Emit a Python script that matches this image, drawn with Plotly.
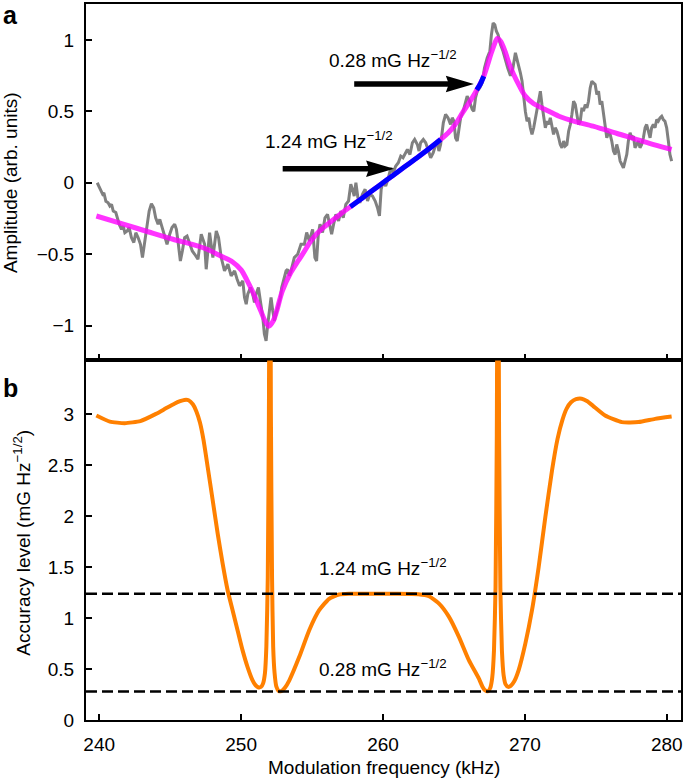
import plotly.graph_objects as go

# ---------------- data ----------------
# Panel a: measured signal (grey)
data_x = [239.86, 240.05, 240.24, 240.33, 240.47, 240.63, 240.75, 240.87, 240.99, 241.17, 241.27, 241.41,
          241.57, 241.69, 241.81, 241.97, 242.11, 242.27, 242.44, 242.58, 242.74, 242.91, 243.05, 243.16,
          243.33, 243.52, 243.68, 243.84, 243.98, 244.15, 244.27, 244.45, 244.62, 244.78, 244.97, 245.13,
          245.32, 245.44, 245.55, 245.72, 245.86, 246.02, 246.19, 246.37, 246.56,
          246.73, 246.96, 247.19, 247.43, 247.54, 247.78, 248.01, 248.25, 248.41, 248.60, 248.83, 249.07,
          249.30, 249.54, 249.72, 249.89, 250.12, 250.24, 250.36, 250.47, 250.66, 250.82, 250.94, 251.06,
          251.22, 251.36, 251.53, 251.64, 251.76, 251.88, 252.00, 252.11, 252.23, 252.35, 252.46, 252.63,
          252.77, 252.86, 253.00, 253.17, 253.28, 253.40, 253.52, 253.64, 253.75, 253.99, 254.22,
          254.46, 254.62, 254.81, 255.04, 255.20, 255.32, 255.44, 255.56, 255.74, 255.91, 256.09, 256.26,
          256.38, 256.52, 256.68, 256.87, 257.03, 257.20, 257.38, 257.57, 257.73, 257.85, 257.97, 258.09,
          258.23, 258.37, 258.55, 258.74, 258.91, 259.07, 259.26, 259.45, 259.61, 259.75, 259.87, 260.01,
          260.19, 260.38, 260.55, 260.71, 260.90, 261.08, 261.25, 261.41,
          261.72, 261.90, 262.07, 262.23, 262.42, 262.54, 262.65, 262.84, 263.01, 263.17, 263.36, 263.54,
          263.71, 263.83, 263.94, 264.06, 264.25, 264.41, 264.58, 264.76, 264.88, 265.00, 265.11, 265.23,
          265.35, 265.47, 265.65, 265.82, 265.93, 266.05, 266.17, 266.29, 266.40, 266.52, 266.64, 266.82,
          266.99, 267.15, 267.34, 267.53, 267.64, 267.76, 267.88, 267.99, 268.11, 268.28, 268.46, 268.63,
          268.79, 268.98, 269.15, 269.33, 269.50, 269.68, 269.80,
          269.92, 270.03, 270.15, 270.27, 270.38, 270.50, 270.62, 270.74, 270.85, 270.97, 271.09, 271.20,
          271.32, 271.44, 271.56, 271.67, 271.79, 271.91, 272.02, 272.14, 272.26, 272.38, 272.49, 272.61,
          272.73, 272.84, 272.96, 273.08, 273.20, 273.31, 273.43, 273.55, 273.66, 273.78, 273.90, 274.02,
          274.13, 274.25, 274.37, 274.48, 274.60, 274.72,
          274.95, 275.07, 275.19, 275.30, 275.42, 275.54, 275.65, 275.77, 275.89, 276.01, 276.12, 276.24,
          276.36, 276.47, 276.59, 276.71, 276.83, 276.94, 277.06, 277.18, 277.29, 277.41, 277.53, 277.65,
          277.76, 277.88, 278.00, 278.11, 278.23, 278.35, 278.47, 278.58, 278.70, 278.82, 278.93, 279.05,
          279.17, 279.29, 279.40, 279.52, 279.64, 279.75, 279.87, 279.99, 280.11, 280.22, 280.34]
data_y = [0.00, -0.035, -0.08, -0.07, -0.13, -0.14, -0.163, -0.151, -0.198, -0.209, -0.245, -0.291,
          -0.326, -0.303, -0.35, -0.338, -0.314, -0.384, -0.419, -0.35, -0.384, -0.431, -0.524, -0.454,
          -0.314, -0.198, -0.147, -0.175, -0.245, -0.291, -0.256, -0.314, -0.384, -0.431, -0.361, -0.314,
          -0.291, -0.326, -0.408, -0.548, -0.478, -0.384, -0.373, -0.431, -0.478,
          -0.501, -0.536, -0.361, -0.431, -0.606, -0.349, -0.524, -0.338, -0.384, -0.524, -0.617, -0.571,
          -0.652, -0.617, -0.676, -0.722, -0.687, -0.804, -0.851, -0.781, -0.734, -0.781, -0.839, -0.781,
          -0.734, -0.827, -0.944, -1.060, -1.107, -0.990, -0.874, -0.804, -0.897, -0.967, -0.920, -0.851,
          -0.804, -0.734, -0.687, -0.617, -0.606, -0.652, -0.617, -0.571, -0.524, -0.501, -0.431,
          -0.431, -0.349, -0.408, -0.326, -0.524, -0.548, -0.361, -0.291, -0.349, -0.245, -0.221, -0.291,
          -0.361, -0.291, -0.221, -0.268, -0.198, -0.245, -0.151, -0.128, -0.011, -0.046, -0.093, 0.0,
          -0.105, -0.140, -0.081, -0.046, -0.128, -0.081, -0.093, -0.128, -0.175, -0.233, -0.046, 0.012,
          -0.023, 0.035, 0.105, 0.070, 0.117, 0.140, 0.187, 0.175,
          0.233, 0.198, 0.280, 0.303, 0.268, 0.222, 0.280, 0.303, 0.280, 0.233, 0.175, 0.210,
          0.268, 0.280, 0.222, 0.268, 0.420, 0.478, 0.455, 0.408, 0.455, 0.431, 0.315, 0.292,
          0.385, 0.455, 0.501, 0.571, 0.606, 0.583, 0.548, 0.513, 0.501, 0.595, 0.641, 0.665,
          0.700, 0.804, 0.874, 0.921, 1.037, 1.119, 1.107, 1.061, 1.037, 0.968, 0.921, 0.851,
          0.804, 0.75, 0.80, 0.91, 0.85, 0.77, 0.711,
          0.595, 0.501, 0.431, 0.455, 0.385, 0.338, 0.385, 0.455, 0.525, 0.595, 0.641, 0.548,
          0.455, 0.385, 0.431, 0.408, 0.455, 0.385, 0.338, 0.385, 0.361, 0.315, 0.268, 0.245,
          0.292, 0.257, 0.268, 0.361, 0.408, 0.478, 0.571, 0.548, 0.478, 0.408, 0.431, 0.525,
          0.501, 0.548, 0.525, 0.571, 0.664, 0.711,
          0.688, 0.618, 0.641, 0.548, 0.571, 0.478, 0.408, 0.315, 0.350, 0.338, 0.292, 0.222,
          0.198, 0.268, 0.222, 0.152, 0.128, 0.105, 0.152, 0.198, 0.292, 0.350, 0.315, 0.326,
          0.245, 0.268, 0.292, 0.245, 0.268, 0.315, 0.385, 0.408, 0.361, 0.315, 0.385, 0.408,
          0.385, 0.443, 0.431, 0.455, 0.466, 0.443, 0.431, 0.385, 0.292, 0.198, 0.152]

# Panel a: fitted curve (magenta)
fit_x = [239.8, 241.7, 243.5, 245.2, 246.5, 247.6, 248.6, 249.4, 250.0, 250.4, 250.8, 251.1, 251.4,
         251.65, 251.95, 252.25, 252.5, 252.9, 253.5, 254.0, 254.4, 254.9, 255.4, 255.94, 256.9,
         257.7, 258.5, 259.3, 260.0, 260.7, 261.5, 262.3, 263.1, 264.06, 264.6, 265.1, 265.6, 266.0,
         266.5, 267.1, 267.6, 267.85, 268.05, 268.3, 268.6, 268.9, 269.2, 269.6, 270.0, 270.6, 271.4,
         272.4, 273.5, 274.8, 276.5, 278.3, 280.34]
fit_y = [-0.233, -0.29, -0.345, -0.396, -0.43, -0.466, -0.515, -0.555, -0.61, -0.68, -0.76, -0.83, -0.90,
         -0.96, -1.005, -0.97, -0.90, -0.76, -0.63, -0.55, -0.49, -0.41, -0.35, -0.303, -0.227,
         -0.168, -0.11, -0.051, 0.0, 0.051, 0.11, 0.168, 0.227, 0.303, 0.35, 0.41, 0.49, 0.55,
         0.63, 0.746, 0.90, 0.97, 1.01, 0.99, 0.92, 0.83, 0.76, 0.68, 0.61, 0.555, 0.515,
         0.466, 0.43, 0.396, 0.345, 0.29, 0.233]

# Panel a: highlighted (blue) parts of the fit
blue1_x = [257.7, 258.5, 259.3, 260.0, 260.7, 261.5, 262.3, 263.1, 264.06]
blue1_y = [-0.168, -0.11, -0.051, 0.0, 0.051, 0.11, 0.168, 0.227, 0.303]
blue2_x = [266.6, 266.85, 267.1]
blue2_y = [0.65, 0.69, 0.746]

# Panel b: accuracy level (orange)
acc_x = [239.8, 240.75, 241.8, 242.9, 244.0, 244.7, 245.3, 245.7, 246.0, 246.3, 246.6, 246.85, 247.1,
         247.35, 247.65, 248.0, 248.35, 248.7, 249.05, 249.4, 249.75, 250.1, 250.45, 250.8, 251.0,
         251.2, 251.4, 251.55, 251.68, 251.78, 251.88, 251.96, 252.03, 252.1, 252.18, 252.26, 252.36,
         252.48, 252.65, 252.85, 253.1, 253.4, 254.1, 254.8, 255.5, 256.2, 256.9, 257.6, 259.3,
         261.0, 262.5, 263.24, 263.95, 264.65, 265.35, 266.05, 266.75, 267.0, 267.2, 267.4, 267.57,
         267.7, 267.82, 267.93, 268.02, 268.1, 268.18, 268.27, 268.38, 268.5, 268.64, 268.82, 269.0,
         269.25, 269.56, 270.03, 270.5, 270.97, 271.44, 271.91, 272.3, 272.65, 272.95, 273.25, 273.6,
         274.0, 274.4, 274.8, 275.65, 276.83, 278.0, 279.17, 280.34]
acc_y = [2.99, 2.93, 2.915, 2.935, 3.006, 3.06, 3.105, 3.13, 3.143, 3.14, 3.10, 3.03, 2.92,
         2.75, 2.48, 2.156, 1.83, 1.535, 1.274, 1.078, 0.882, 0.686, 0.522, 0.392, 0.345,
         0.322, 0.325, 0.36, 0.46, 0.72, 1.4, 3.0, 6.0, 3.0, 1.4, 0.72, 0.46,
         0.33, 0.285, 0.285, 0.32, 0.39, 0.62, 0.882, 1.078, 1.19, 1.232, 1.24, 1.24,
         1.24, 1.235, 1.215, 1.143, 1.013, 0.817, 0.588, 0.408, 0.33, 0.29, 0.283, 0.32,
         0.42, 0.68, 1.3, 2.8, 6.0, 2.8, 1.3, 0.68, 0.44, 0.35, 0.325, 0.335,
         0.38, 0.49, 0.75, 1.078, 1.503, 1.993, 2.45, 2.76, 2.95, 3.06, 3.12, 3.15,
         3.155, 3.13, 3.085, 2.99, 2.925, 2.925, 2.957, 2.98]

# Reference levels (mG Hz^-1/2)
levels = [1.24, 0.28]
level_labels = ["1.24 mG Hz<sup>\u22121/2</sup>", "0.28 mG Hz<sup>\u22121/2</sup>"]

# Tick values / labels
x_ticks = [240, 250, 260, 270, 280]
ya_ticks = [-1, -0.5, 0, 0.5, 1]
ya_text = ["\u22121", "\u22120.5", "0", "0.5", "1"]
yb_ticks = [0, 0.5, 1, 1.5, 2, 2.5, 3]
yb_text = ["0", "0.5", "1", "1.5", "2", "2.5", "3"]

# Arrows in panel a: (tail x, tip x, y, label)
arrows = [(257.97, 266.40, 0.692, "0.28 mG Hz<sup>\u22121/2</sup>"),
          (252.93, 260.78, 0.098, "1.24 mG Hz<sup>\u22121/2</sup>")]

# ---------------- figure ----------------
FONT = "Liberation Sans, Arial, Helvetica, sans-serif"
GREY = "rgb(128,128,128)"
MAGENTA = "rgba(255,0,255,0.8)"
BLUE = "rgb(0,0,255)"
ORANGE = "rgb(255,128,0)"

fig = go.Figure()
fig.add_trace(go.Scatter(x=data_x, y=data_y, mode="lines", line=dict(color=GREY, width=3),
                         xaxis="x", yaxis="y", showlegend=False, hoverinfo="skip"))
fig.add_trace(go.Scatter(x=fit_x, y=fit_y, mode="lines", line=dict(color=MAGENTA, width=5, shape="spline", smoothing=0.8),
                         xaxis="x", yaxis="y", showlegend=False, hoverinfo="skip"))
for bx, by in [(blue1_x, blue1_y), (blue2_x, blue2_y)]:
    fig.add_trace(go.Scatter(x=bx, y=by, mode="lines", line=dict(color=BLUE, width=5, shape="spline"),
                             xaxis="x", yaxis="y", showlegend=False, hoverinfo="skip"))
fig.add_trace(go.Scatter(x=acc_x, y=acc_y, mode="lines", line=dict(color=ORANGE, width=4, shape="spline", smoothing=0.5),
                         xaxis="x2", yaxis="y2", showlegend=False, hoverinfo="skip"))

x_range = [239.07, 281.0]
split = 0.5021
axis_common = dict(showline=True, linecolor="black", linewidth=2, mirror=True, ticks="inside",
                   ticklen=6, tickwidth=2, tickcolor="black", showgrid=False, zeroline=False,
                   tickfont=dict(family=FONT, size=19, color="black"))

fig.update_layout(
    width=685, height=781,
    margin=dict(l=86, r=2, t=3, b=61),
    paper_bgcolor="white", plot_bgcolor="white",
    font=dict(family=FONT, size=19, color="black"),
    hovermode=False,
    xaxis=dict(domain=[0, 1], anchor="y", range=x_range, tickvals=x_ticks, showticklabels=False, **axis_common),
    yaxis=dict(domain=[split, 1], anchor="x", range=[-1.245, 1.252], tickvals=ya_ticks, ticktext=ya_text,
               ticklabelstandoff=6, **axis_common),
    xaxis2=dict(domain=[0, 1], anchor="y2", range=x_range, tickvals=x_ticks, ticklabelstandoff=6, **axis_common),
    yaxis2=dict(domain=[0, split], anchor="x2", range=[0, 3.53], tickvals=yb_ticks, ticktext=yb_text,
                ticklabelstandoff=6, **axis_common),
)

shapes = []
for lv in levels:
    shapes.append(dict(type="line", xref="x2 domain", yref="y2", x0=0, x1=1, y0=lv, y1=lv,
                       line=dict(color="black", width=2.5, dash="11px,5px")))
for tail, tip, yv, _ in arrows:
    shapes.append(dict(type="line", xref="x", yref="y", x0=tail, x1=tip - 1.0, y0=yv, y1=yv,
                       line=dict(color="black", width=5.5)))
    shapes.append(dict(type="path", xref="x", yref="y", xsizemode="pixel", ysizemode="pixel",
                       xanchor=tip, yanchor=yv, path="M0,0 L-28,8.3 L-25,0 L-28,-8.3 Z",
                       fillcolor="black", line=dict(color="black", width=0)))
fig.update_layout(shapes=shapes)

ann = []
# arrow labels (panel a)
ann.append(dict(xref="x", yref="y", x=260.71, y=0.87, text=arrows[0][3], showarrow=False,
                xanchor="center", yanchor="middle", font=dict(size=19)))
ann.append(dict(xref="x", yref="y", x=256.21, y=0.30, text=arrows[1][3], showarrow=False,
                xanchor="center", yanchor="middle", font=dict(size=19)))
# level labels (panel b)
ann.append(dict(xref="x2", yref="y2", x=260.0, y=1.50, text=level_labels[0], showarrow=False,
                xanchor="center", yanchor="middle", font=dict(size=19)))
ann.append(dict(xref="x2", yref="y2", x=260.0, y=0.51, text=level_labels[1], showarrow=False,
                xanchor="center", yanchor="middle", font=dict(size=19)))
# axis titles
ann.append(dict(xref="paper", yref="paper", x=-0.1256, y=0.7503, text="Amplitude (arb. units)",
                textangle=-90, showarrow=False, xanchor="center", yanchor="middle", font=dict(size=19)))
ann.append(dict(xref="paper", yref="paper", x=-0.1072, y=0.248, text="Accuracy level (mG Hz<sup>\u22121/2</sup>)",
                textangle=-90, showarrow=False, xanchor="center", yanchor="middle", font=dict(size=19)))
ann.append(dict(xref="paper", yref="paper", x=0.5008, y=-0.067, text="Modulation frequency (kHz)",
                showarrow=False, xanchor="center", yanchor="middle", font=dict(size=19)))
# panel labels
ann.append(dict(xref="paper", yref="paper", x=-0.1273, y=0.9847, text="<b>a</b>", showarrow=False,
                xanchor="center", yanchor="middle", font=dict(size=25)))
ann.append(dict(xref="paper", yref="paper", x=-0.1265, y=0.463, text="<b>b</b>", showarrow=False,
                xanchor="center", yanchor="middle", font=dict(size=25)))
fig.update_layout(annotations=ann)

fig.write_html("out.html", config={"displayModeBar": False, "staticPlot": True},
               post_script="document.body.style.margin='0px';")
